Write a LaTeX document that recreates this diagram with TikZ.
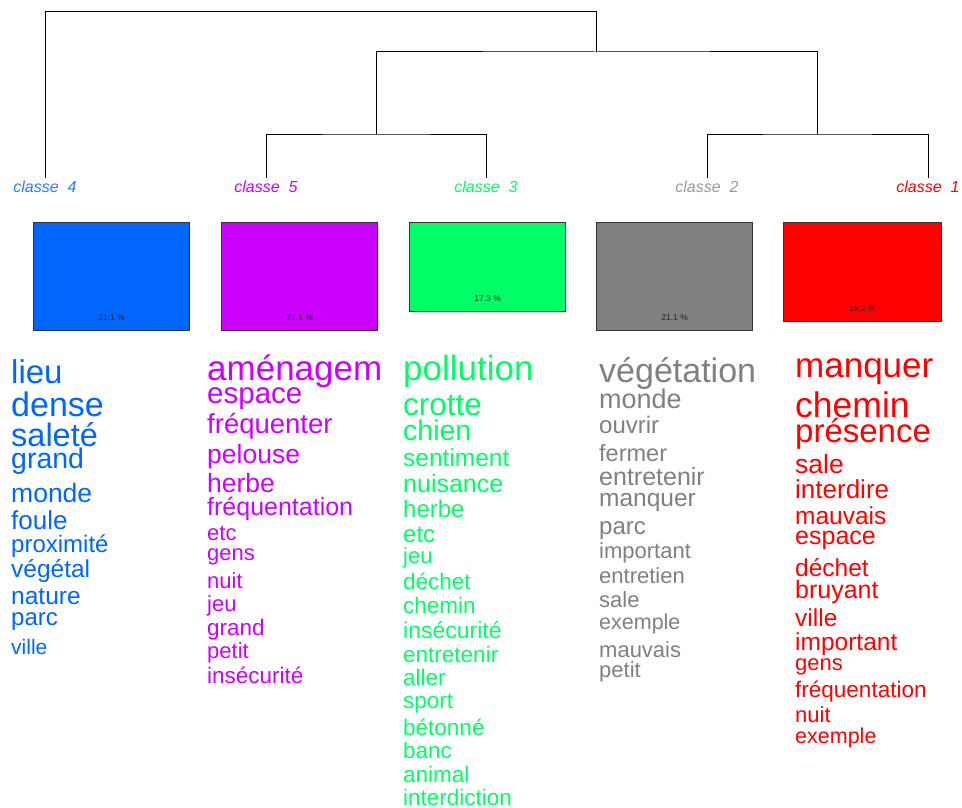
\documentclass[tikz,border=0pt]{standalone}
\usepackage{fontspec}
\setmainfont{Liberation Sans}
\definecolor{cblue}{RGB}{0,102,255}
\definecolor{cviolet}{RGB}{204,0,255}
\definecolor{cgreen}{RGB}{0,255,102}
\definecolor{cgray}{RGB}{128,128,128}
\definecolor{cred}{RGB}{255,0,0}
\newcommand{\wsz}[1]{\fontsize{#1}{#1}\selectfont}
\begin{document}
\begin{tikzpicture}[x=1pt,y=-1pt,
  lbl/.style={anchor=base, inner sep=2pt, font=\wsz{16}\itshape},
  box/.style={draw=black!80, line width=1.3pt, anchor=north west, minimum width=156pt, inner sep=0pt},
  pct/.style={anchor=base, inner sep=0pt, font=\wsz{8.5}, text=black!85},
  word/.style={anchor=base west, inner sep=0pt}]
\useasboundingbox (0,0) rectangle (962,808);

\node[lbl, text=cblue!85] (c4) at (45,192) {classe~~4};
\node[lbl, text=cviolet] (c5) at (266,192) {classe~~5};
\node[lbl, text=cgreen] (c3) at (486,192) {classe~~3};
\node[lbl, text=cgray!80] (c2) at (707,192) {classe~~2};
\node[lbl, text=cred] (c1) at (928,192) {classe~~1};

\coordinate (r) at (596,12);
\coordinate (n) at (596,52);
\coordinate (n53) at (376,134);
\coordinate (n21) at (817,134);

\draw[line width=1pt] (c4.north) |- (r) -- (n);
\draw[line width=1pt] (n53) |- (n) -| (n21);
\draw[line width=1pt] (c5.north) |- (n53) -| (c3.north);
\draw[line width=1pt] (c2.north) |- (n21) -| (c1.north);

\node[box, fill=cblue, minimum height=108pt] (p4) at (33,222) {};
\node[box, fill=cviolet, minimum height=108pt] (p5) at (221,222) {};
\node[box, fill=cgreen, minimum height=89pt] (p3) at (409,222) {};
\node[box, fill=cgray, minimum height=108pt] (p2) at (596,222) {};
\node[box, fill=cred, minimum height=99pt, minimum width=158pt] (p1) at (783,222) {};

\node[pct] (t4) at ([yshift=11pt]p4.south) {21.1 \%};
\node[pct] (t5) at ([yshift=11pt]p5.south) {21.1 \%};
\node[pct] (t3) at ([yshift=11pt]p3.south) {17.3 \%};
\node[pct] (t2) at ([yshift=11pt]p2.south) {21.1 \%};
\node[pct] (t1) at ([yshift=11pt]p1.south) {19.2 \%};

\foreach \w/\s/\y [count=\i] in {lieu/33/383, dense/34/416, saleté/32.5/446, grand/28.5/468,
  monde/26.5/502, foule/26/529, proximité/24/552, végétal/24.5/577, nature/24.5/604,
  parc/24/625, ville/21/654}
  \node[word, text=cblue, font=\wsz{\s}] (w4-\i) at (11,\y) {\w};

\foreach \w/\s/\y [count=\i] in {aménagem/35/380, espace/29.5/403, fréquenter/27.5/433,
  pelouse/26.5/463, herbe/26.5/492, fréquentation/25/515, etc/22/540, gens/22/560,
  nuit/22/588, jeu/22/611, grand/22.5/635, petit/22/658, insécurité/22.5/683}
  \node[word, text=cviolet, font=\wsz{\s}] (w5-\i) at (207,\y) {\w};

\foreach \w/\s/\y [count=\i] in {pollution/35/380, crotte/31.5/415, chien/28.5/440,
  sentiment/24.5/466, nuisance/25/492, herbe/24/517, etc/24/542, jeu/22/563,
  déchet/22.5/589, chemin/22.5/613, insécurité/23/638, entretenir/22.5/662, aller/22.5/685,
  sport/22.5/708, bétonné/22.5/735, banc/22.5/758, animal/22.5/782, interdiction/22.5/805}
  \node[word, text=cgreen, font=\wsz{\s}] (w3-\i) at (403,\y) {\w};

\foreach \w/\s/\y [count=\i] in {végétation/34/382, monde/27/408, ouvrir/24/433,
  fermer/23.5/461, entretenir/25/485, manquer/24.5/506, parc/24/534, important/22/558,
  entretien/22/583, sale/22/607, exemple/21.5/629, mauvais/22/657, petit/22/677}
  \node[word, text=cgray, font=\wsz{\s}] (w2-\i) at (599,\y) {\w};

\foreach \w/\s/\y [count=\i] in {manquer/35/377, chemin/35.5/417, présence/33/442,
  sale/26.5/473, interdire/26/498, mauvais/24.5/524, espace/25/544, déchet/24.5/576,
  bruyant/25/598, ville/24.5/626, important/24.5/650, gens/22/670, fréquentation/22.5/697,
  nuit/22/722, exemple/21.5/743}
  \node[word, text=cred, font=\wsz{\s}] (w1-\i) at (795,\y) {\w};
\end{tikzpicture}
\end{document}
